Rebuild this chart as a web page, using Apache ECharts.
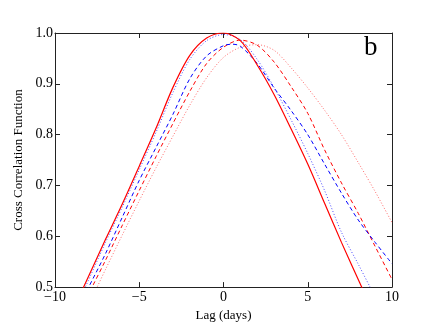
<!DOCTYPE html>
<html>
<head>
<meta charset="utf-8">
<script src="https://cdn.jsdelivr.net/npm/echarts@6/dist/echarts.min.js"></script>
<style>
  html, body { margin: 0; padding: 0; background: #fff; }
  #chart { width: 436px; height: 327px; }
</style>
</head>
<body>
<div id="chart"></div>
<script>
// lag values (days) and correlation values
const redSolidX = [-8.6, -8.3, -7, -6, -5, -4, -3, -2, -1, 0, 1, 2, 3, 4, 5, 6, 7, 8.2, 8.5]
const redSolidY = [0.478, 0.5, 0.594, 0.664, 0.738, 0.813, 0.893, 0.956, 0.99, 1.0, 0.985, 0.937, 0.879, 0.812, 0.742, 0.665, 0.588, 0.5, 0.478]

const blueDottedX = [-8.5, -8.2, -7, -6, -5, -4, -3, -2, -1, 0, 1, 2, 3, 4, 5, 6, 7, 8, 8.7, 9]
const blueDottedY = [0.48, 0.5, 0.588, 0.658, 0.731, 0.805, 0.883, 0.948, 0.985, 0.997, 0.987, 0.948, 0.893, 0.83, 0.763, 0.69, 0.608, 0.545, 0.5, 0.482]

const blueDashedX = [-8.3, -8, -7, -6, -5, -4, -3, -2, -1, 0, 0.5, 1, 2, 3, 4, 5, 6, 7, 8, 9, 10]
const blueDashedY = [0.48, 0.5, 0.566, 0.638, 0.71, 0.775, 0.84, 0.91, 0.955, 0.975, 0.978, 0.974, 0.94, 0.892, 0.848, 0.8, 0.742, 0.685, 0.632, 0.588, 0.546]

const redDashedX = [-8.1, -7.8, -7, -6, -5, -4, -3, -2, -1, 0, 1, 2, 3, 4, 5, 6, 7, 8, 9, 10]
const redDashedY = [0.48, 0.5, 0.553, 0.622, 0.69, 0.757, 0.822, 0.885, 0.94, 0.972, 0.986, 0.976, 0.943, 0.895, 0.842, 0.77, 0.705, 0.645, 0.58, 0.515]

const redDottedX = [-7.8, -7.5, -7, -6, -5, -4, -3, -2, -1, 0, 1, 2, 3, 4, 5, 6, 7, 8, 9, 10]
const redDottedY = [0.48, 0.5, 0.535, 0.603, 0.67, 0.735, 0.797, 0.858, 0.912, 0.952, 0.972, 0.977, 0.966, 0.932, 0.892, 0.848, 0.8, 0.745, 0.688, 0.627]

const pairs = (xs, ys) => xs.map((x, i) => [x, ys[i]])

const font = 'Liberation Serif'
const chart = echarts.init(document.getElementById('chart'))

// one line series
const line = (data, color, type, width) => ({
  type: 'line',
  data: data,
  smooth: 0.3,
  showSymbol: false,
  clip: true,
  lineStyle: { color: color, type: type, width: width },
  emphasis: { disabled: true }
})

// frame axes: all four sides drawn, ticks pointing in
const frameAxis = (show) => ({
  axisLine: { show: true, onZero: false, lineStyle: { color: '#222', width: 1 } },
  axisTick: { show: true, inside: true, length: 5, lineStyle: { color: '#222' } },
  splitLine: { show: false },
  axisLabel: { show: show, color: '#000', fontFamily: font, fontSize: 14 }
})

chart.setOption({
  animation: false,
  grid: { left: 55, right: 44, top: 33, bottom: 33 },
  xAxis: [
    Object.assign({
      type: 'value', min: -10, max: 10, interval: 5, position: 'bottom',
      name: 'Lag (days)', nameLocation: 'middle', nameGap: 17,
      nameTextStyle: { color: '#000', fontFamily: font, fontSize: 13 }
    }, frameAxis(true), {
      axisLabel: {
        color: '#000', fontFamily: font, fontSize: 14, margin: 3,
        formatter: v => String(v).replace('-', '\u2212')
      }
    }),
    Object.assign({ type: 'value', min: -10, max: 10, interval: 5, position: 'top' }, frameAxis(false))
  ],
  yAxis: [
    Object.assign({
      type: 'value', min: 0.5, max: 1.0, interval: 0.1, position: 'left',
      name: 'Cross Correlation Function', nameLocation: 'middle', nameGap: 22,
      nameTextStyle: { color: '#000', fontFamily: font, fontSize: 13 }
    }, frameAxis(true), {
      axisLabel: {
        color: '#000', fontFamily: font, fontSize: 14, margin: 2,
        formatter: v => v.toFixed(1)
      }
    }),
    Object.assign({ type: 'value', min: 0.5, max: 1.0, interval: 0.1, position: 'right' }, frameAxis(false))
  ],
  graphic: [
    {
      type: 'text', left: 364, top: 34,
      style: { text: 'b', font: '27px "Liberation Serif"', fill: '#000' }
    }
  ],
  series: [
    line(pairs(redDottedX, redDottedY), '#ff6a6a', [1, 2], 1),
    line(pairs(redDashedX, redDashedY), '#ff0000', [4, 3], 1),
    line(pairs(blueDashedX, blueDashedY), '#0000ff', [4, 3], 1),
    line(pairs(blueDottedX, blueDottedY), '#4a4aff', [1, 2], 1),
    line(pairs(redSolidX, redSolidY), '#ff0000', 'solid', 1.2)
  ]
})
</script>
</body>
</html>
